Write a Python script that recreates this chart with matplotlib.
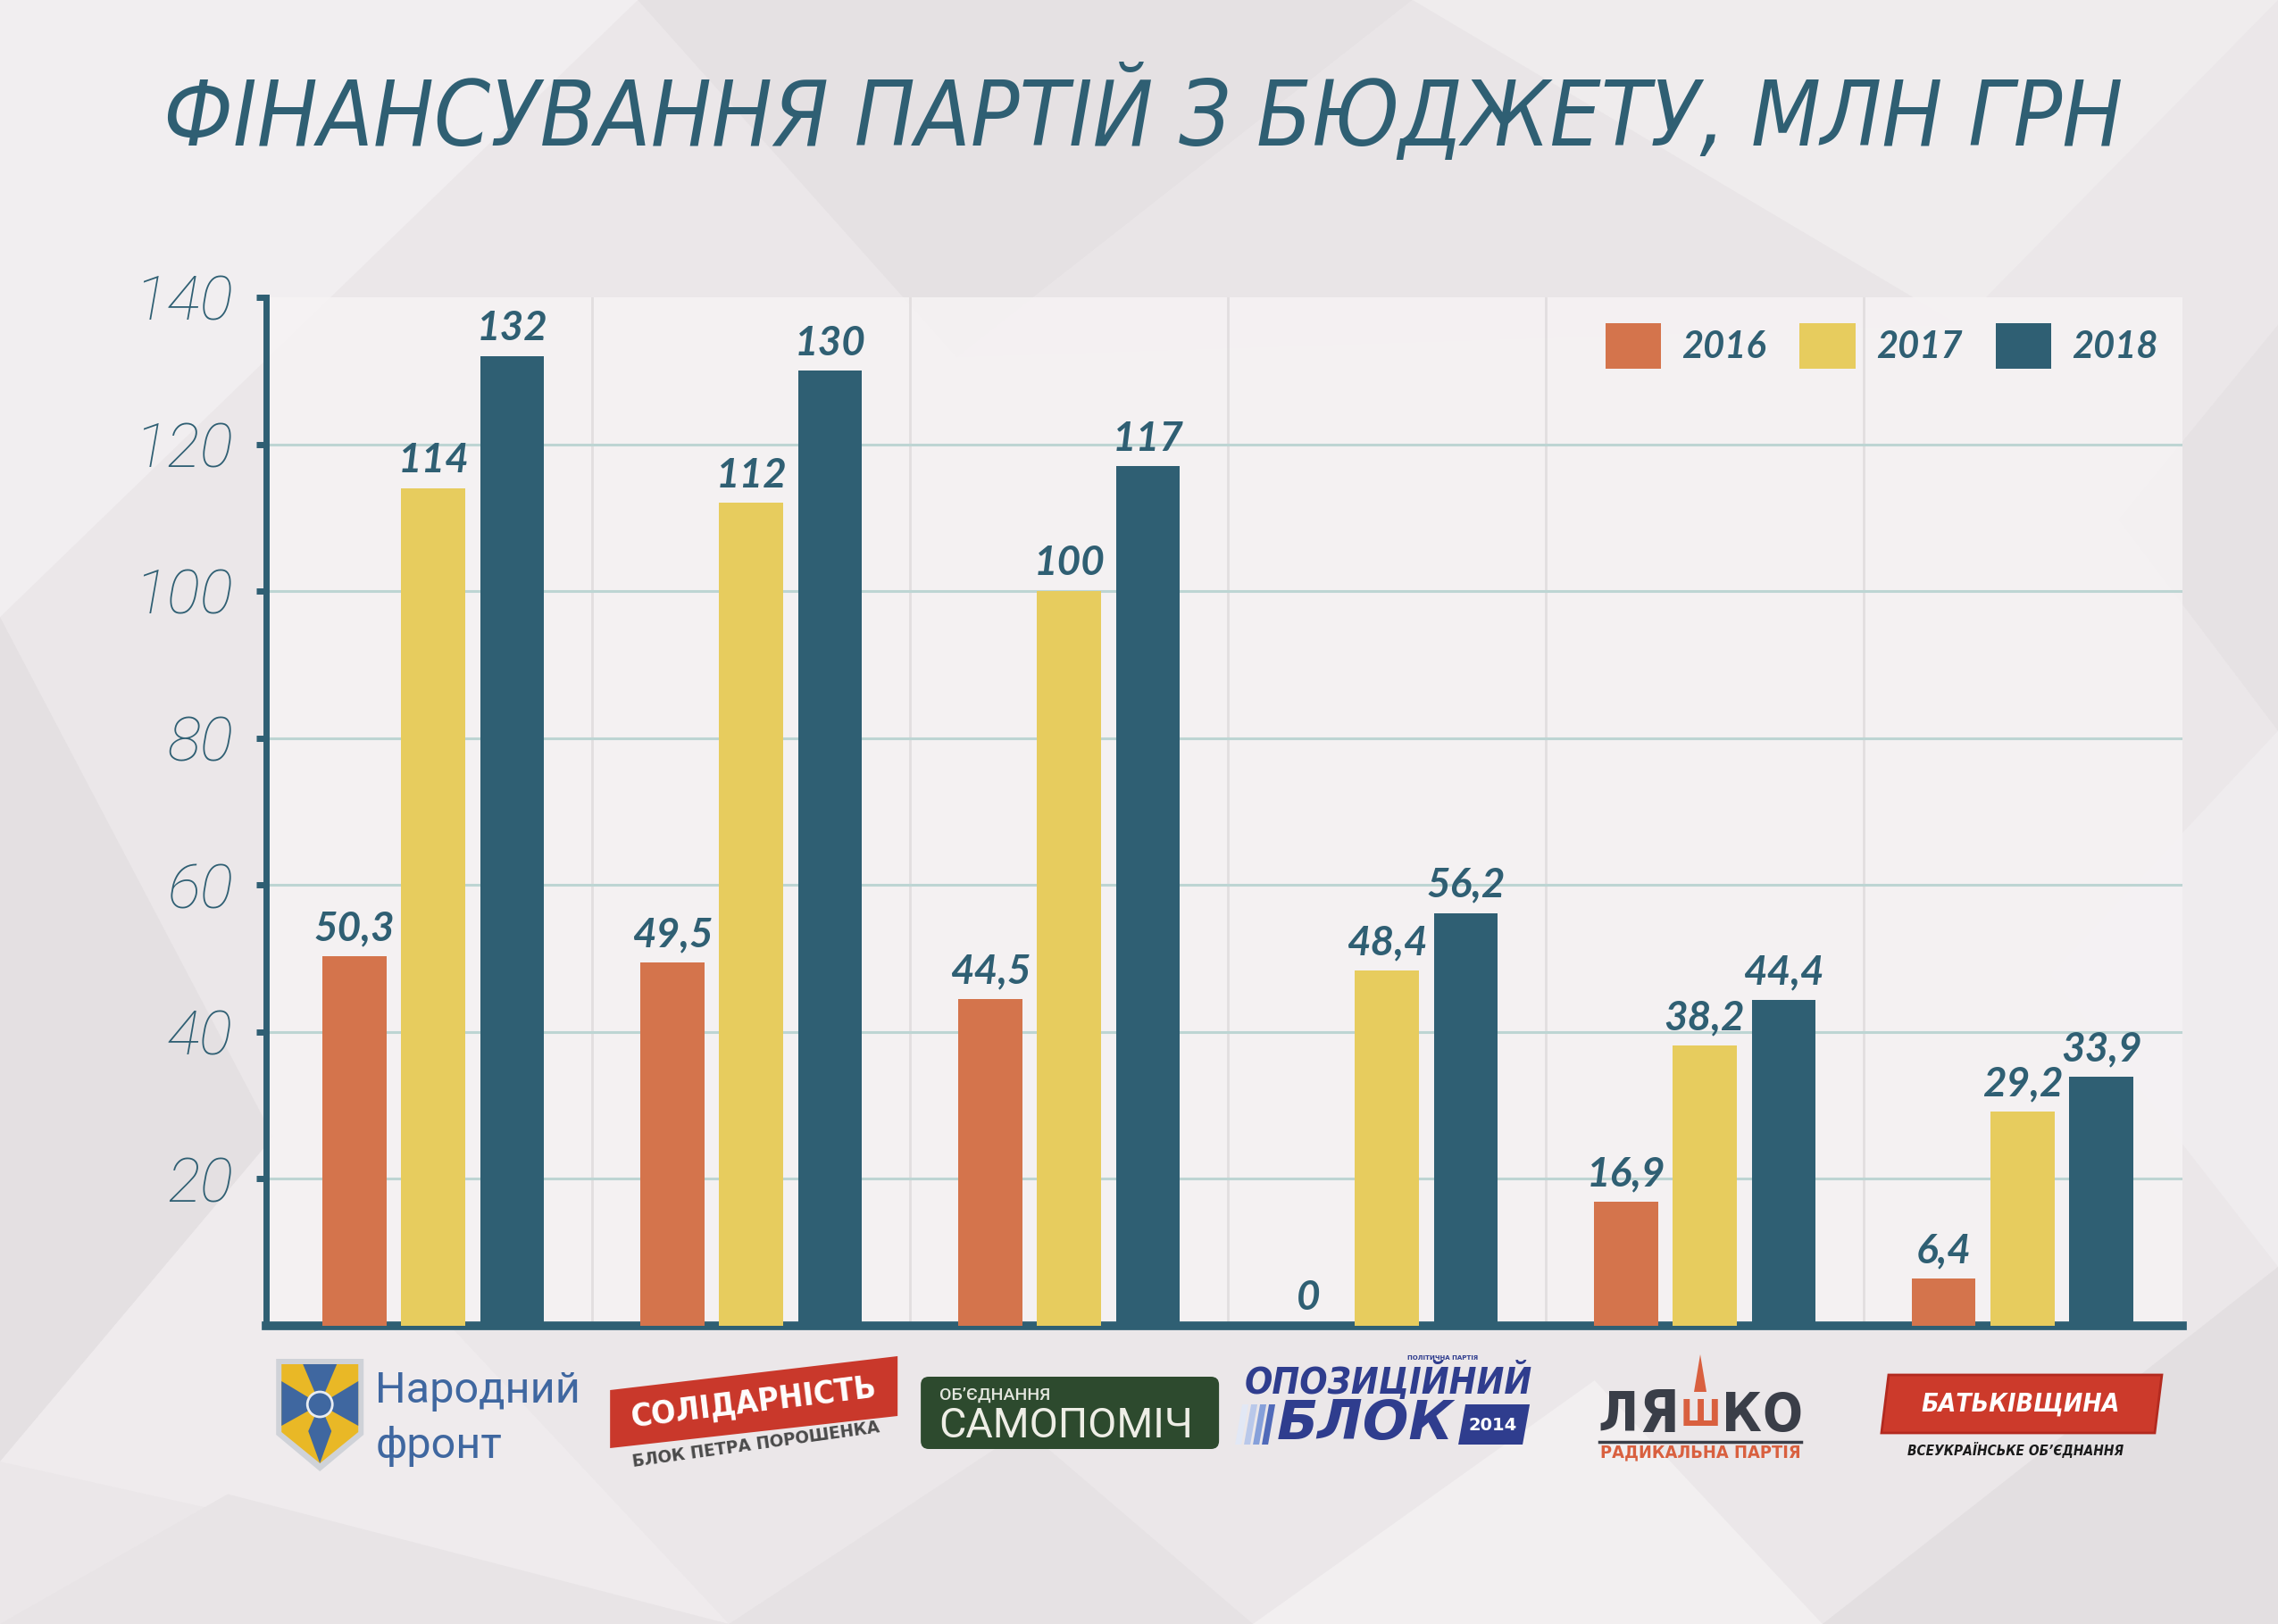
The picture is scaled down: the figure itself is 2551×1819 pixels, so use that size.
import matplotlib
matplotlib.use('Agg')
import matplotlib.pyplot as plt
import matplotlib.transforms as mtransforms
from matplotlib.patches import Polygon, FancyBboxPatch, Circle, Patch

# data
years = ['2016', '2017', '2018']
v2016 = [50.3, 49.5, 44.5, 0, 16.9, 6.4]
v2017 = [114, 112, 100, 48.4, 38.2, 29.2]
v2018 = [132, 130, 117, 56.2, 44.4, 33.9]
yticks = [20, 40, 60, 80, 100, 120, 140]
title = 'ФІНАНСУВАННЯ ПАРТІЙ З БЮДЖЕТУ, МЛН ГРН'

ORANGE = '#d4744c'
YELLOW = '#e7cc5e'
TEAL = '#2f5f73'
GRID = '#bdd5d3'

W, H = 2551, 1819
fig = plt.figure(figsize=(W / 100, H / 100), dpi=100)
fig.patch.set_facecolor('#ebe7e9')
R = fig.canvas.get_renderer()

# low-poly background
bg = [
    ([(0, 1), (0.28, 1), (0, 0.62)], '#f1eef0'),
    ([(0.28, 1), (0.62, 1), (0.42, 0.78)], '#e5e1e3'),
    ([(0.62, 1), (1, 1), (0.86, 0.80)], '#efeced'),
    ([(0.42, 0.78), (0.86, 0.80), (0.62, 1)], '#e9e5e7'),
    ([(0, 0.62), (0.12, 0.30), (0, 0.10)], '#e4e0e2'),
    ([(0, 0.10), (0.12, 0.30), (0.32, 0)], '#efebed'),
    ([(0.32, 0), (0.55, 0), (0.45, 0.12)], '#e6e2e4'),
    ([(0.55, 0), (0.80, 0), (0.70, 0.15)], '#f2eff0'),
    ([(0.80, 0), (1, 0), (1, 0.22)], '#e3dfe1'),
    ([(1, 0.22), (1, 0.55), (0.90, 0.40)], '#efecee'),
    ([(1, 0.55), (1, 0.80), (0.93, 0.68)], '#e6e2e4'),
    ([(0, 0), (0.32, 0), (0.10, 0.08)], '#e8e4e6'),
]
for pts, c in bg:
    fig.patches.append(Polygon(pts, closed=True, transform=fig.transFigure,
                               facecolor=c, edgecolor='none', zorder=-10))

ax = fig.add_axes([298 / W, 1 - 1485 / H, (2444 - 298) / W, (1485 - 333) / H])
ax.set_facecolor((0.965, 0.953, 0.957, 0.85))

x = list(range(len(v2016)))
bw = 0.201
off = 0.248
series = [(v2016, ORANGE, -off), (v2017, YELLOW, 0), (v2018, TEAL, off)]
for vals, col, dx in series:
    xs = [i + dx for i in x]
    ax.bar(xs, vals, width=bw, color=col, zorder=3)
    for xi, v in zip(xs, vals):
        ax.annotate(f'{v:g}'.replace('.', ','), (xi, v), xytext=(0, 7),
                    textcoords='offset points', ha='center', va='bottom',
                    fontsize=33, fontfamily='Lato', fontweight='bold',
                    fontstyle='italic', color=TEAL, zorder=4)

ax.set_xlim(-0.526, 5.503)
ax.set_ylim(0, 140)
ax.set_xticks([])
ax.set_yticks(yticks)
ax.tick_params(axis='y', direction='out', length=8, width=5, color=TEAL,
               pad=19, labelsize=50, labelcolor=TEAL)
for lab in ax.get_yticklabels():
    lab.set_fontfamily('Roboto')
    lab.set_fontweight('light')
    lab.set_fontstyle('italic')

ax.yaxis.grid(True, color=GRID, linewidth=2.2, zorder=1)
ax.get_ygridlines()[-1].set_visible(False)
ax.set_axisbelow(True)
for sx in [0.5, 1.5, 2.5, 3.5, 4.5]:
    ax.axvline(sx, color='#e2dedf', linewidth=2, zorder=0.5)

for s in ['top', 'right']:
    ax.spines[s].set_visible(False)
ax.spines['left'].set_linewidth(5)
ax.spines['left'].set_color(TEAL)
ax.spines['bottom'].set_linewidth(7)
ax.spines['bottom'].set_color(TEAL)
ax.spines['bottom'].set_capstyle('projecting')

handles = [Patch(facecolor=c, edgecolor='none') for c in (ORANGE, YELLOW, TEAL)]
leg = ax.legend(handles, years, ncol=3, frameon=False, loc='upper right',
                bbox_to_anchor=(0.997, 0.993), borderpad=0,
                handlelength=1.5, handleheight=1.5, handletextpad=0.55,
                columnspacing=0.9,
                prop={'family': 'Lato', 'weight': 'bold', 'style': 'italic',
                      'size': 30})
for t in leg.get_texts():
    t.set_color(TEAL)


def fit(t, width):
    # scale the font so the text spans the given width in pixels
    rot = t.get_rotation()
    t.set_rotation(0)
    w = t.get_window_extent(R).width
    t.set_fontsize(t.get_fontsize() * width / w)
    t.set_rotation(rot)
    return t


# title, fitted to the reference width
tt = fig.text(1280 / W, 1 - 163 / H, title, ha='center', va='baseline',
              fontsize=73, fontfamily='DejaVu Sans', fontstretch='condensed',
              fontweight='light', fontstyle='italic', color=TEAL)
fit(tt, 2197)


# party logos below each group (offsets in pixels, y downwards from the axis)
def logo_tr(i):
    x0, y0 = ax.get_xaxis_transform().transform((i, 0))
    return mtransforms.Affine2D().scale(1, -1).translate(x0, y0)


def poly(i, pts, fc, ec='none', lw=0):
    ax.add_patch(Polygon(pts, closed=True, transform=logo_tr(i), facecolor=fc,
                         edgecolor=ec, linewidth=lw, clip_on=False))


def txt(i, px, py, s, width=None, **kw):
    kw.setdefault('ha', 'center')
    kw.setdefault('va', 'center')
    t = ax.text(px, py, s, transform=logo_tr(i), clip_on=False, **kw)
    if width:
        fit(t, width)
    return t


BOLDC = dict(fontfamily='DejaVu Sans', fontstretch='condensed', fontweight='bold')

# 0 Народний фронт
poly(0, [(-176, 37), (-78, 37), (-78, 122), (-127, 163), (-176, 122)], '#cfd2d8')
poly(0, [(-170, 43), (-84, 43), (-84, 119), (-127, 154), (-170, 119)], '#e9b826')
poly(0, [(-146, 43), (-108, 43), (-127, 88)], '#3f67a0')
poly(0, [(-127, 88), (-114, 118), (-127, 154), (-140, 118)], '#3f67a0')
poly(0, [(-170, 62), (-170, 112), (-127, 88)], '#3f67a0')
poly(0, [(-84, 62), (-84, 112), (-127, 88)], '#3f67a0')
ax.add_patch(Circle((-127, 88), 14, transform=logo_tr(0), facecolor='#3f67a0',
                    edgecolor='#e8ecf2', linewidth=2, clip_on=False))
txt(0, -65, 73, 'Народний', ha='left', fontsize=35, fontfamily='Roboto',
    color='#3f67a0')
txt(0, -65, 135, 'фронт', ha='left', fontsize=35, fontfamily='Roboto',
    color='#3f67a0')

# 1 Солідарність
poly(1, [(-158, 72), (164, 34), (164, 101), (-158, 137)], '#c9382b')
txt(1, 3, 86, 'СОЛІДАРНІСТЬ', width=276, fontsize=30, color='white',
    rotation=7, **BOLDC)
txt(1, 5, 133, 'БЛОК ПЕТРА ПОРОШЕНКА', width=280, fontsize=18,
    color='#4a4a4a', rotation=8, **BOLDC)

# 2 Самопоміч
ax.add_patch(FancyBboxPatch((-166, 57), 334, 81,
                            boxstyle='round,pad=0,rounding_size=9',
                            transform=logo_tr(2), facecolor='#2d4a2e',
                            edgecolor='none', clip_on=False))
txt(2, -145, 78, 'ОБ’ЄДНАННЯ', ha='left', fontsize=14, fontfamily='Roboto',
    fontweight='medium', color='#e3e6de')
txt(2, -146, 112, 'САМОПОМІЧ', ha='left', width=285, fontsize=33,
    fontfamily='Roboto', color='#eeeee6')

# 3 Опозиційний блок
txt(3, 2, 63, 'ОПОЗИЦІЙНИЙ', width=322, fontsize=36, fontstyle='italic',
    color='#2f3d8e', **BOLDC)
txt(3, 62, 36, 'ПОЛІТИЧНА ПАРТІЯ', fontsize=5, fontfamily='DejaVu Sans',
    fontweight='bold', color='#2f3d8e')
for k, c in enumerate(['#e2e8f5', '#b9c8ea', '#86a0da', '#4f69b9']):
    xa = -170 + k * 10
    poly(3, [(xa + 8, 88), (xa + 15, 88), (xa + 7, 133), (xa, 133)], c)
poly(3, [(88, 88), (160, 88), (152, 133), (80, 133)], '#2f3d8e')
txt(3, 119, 111, '2014', fontsize=14, fontfamily='DejaVu Sans',
    fontweight='bold', color='white')
txt(3, -24, 110, 'БЛОК', width=198, fontsize=48, fontfamily='DejaVu Sans',
    fontweight='bold', fontstyle='oblique', color='#2f3d8e')

# 4 Радикальна партія Ляшка
for k, ch in enumerate('ЛЯШКО'):
    c = '#d9603f' if ch == 'Ш' else '#3a3e48'
    txt(4, -5 + (k - 2) * 46, 101, ch, width=45, fontsize=40, color=c, **BOLDC)
poly(4, [(-5, 32), (2, 74), (-12, 74)], '#d9603f')
ax.plot([-118, 108], [130, 130], transform=logo_tr(4), color='#3a3e48',
        linewidth=2.5, clip_on=False)
txt(4, -5, 142, 'РАДИКАЛЬНА ПАРТІЯ', width=226, fontsize=16, color='#d9603f',
    **BOLDC)

# 5 Батьківщина
poly(5, [(-150, 55), (156, 55), (148, 120), (-158, 120)], '#cc3a2b',
     ec='#b32a1f', lw=2)
txt(5, -2, 88, 'БАТЬКІВЩИНА', width=222, fontsize=28, fontstyle='italic',
    color='white', **BOLDC)
txt(5, -8, 139, 'ВСЕУКРАЇНСЬКЕ ОБ’ЄДНАННЯ', width=241, fontsize=12,
    fontstyle='italic', color='#1a1a1a', **BOLDC)

fig.savefig('out.png', dpi=100, facecolor=fig.get_facecolor())
